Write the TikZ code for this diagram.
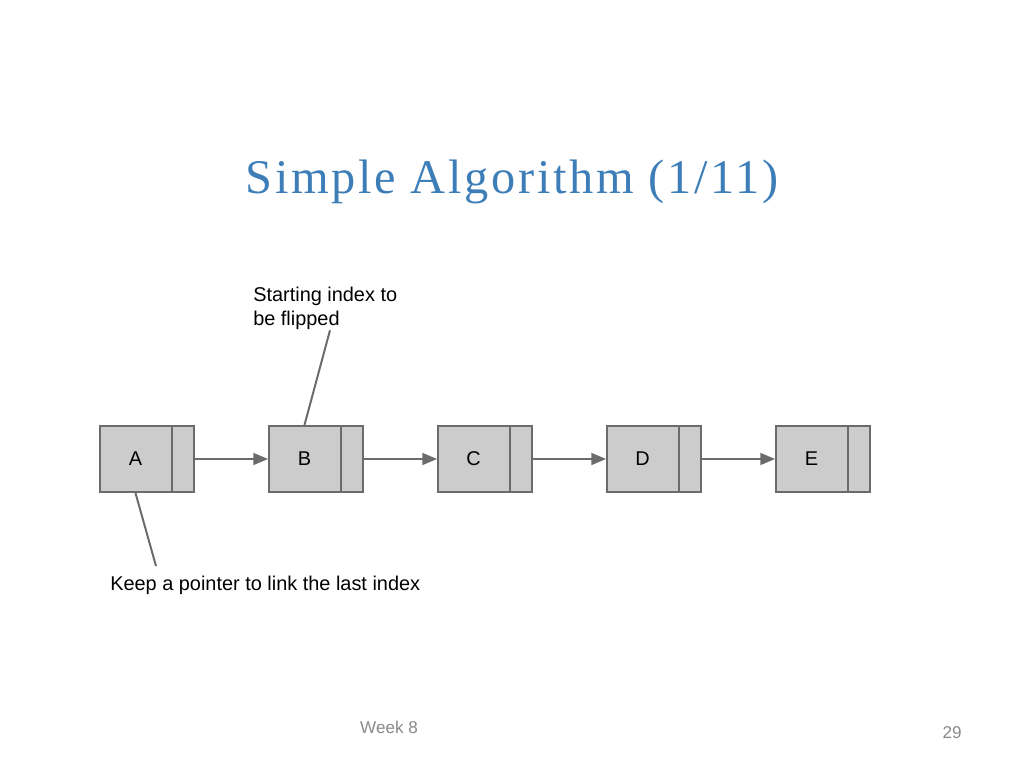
\documentclass[tikz,border=0pt]{standalone}
\usepackage{fontspec}
\setmainfont{Liberation Sans}
\newfontfamily\titlefont[LetterSpace=5.5]{Liberation Serif}
\usetikzlibrary{shapes}
\usetikzlibrary{arrows}
\usetikzlibrary{positioning}
\newlength\pxl
\setlength\pxl{0.703125pt}
\definecolor{titleblue}{HTML}{3E7EB8}
\definecolor{cellfill}{HTML}{CCCCCC}
\definecolor{cellline}{HTML}{6B6B6B}
\definecolor{footgray}{HTML}{898989}
\newcommand{\cell}[1]{\makebox[71\pxl]{#1}\nodepart{two}\makebox[21\pxl]{}}
\begin{document}
\begin{tikzpicture}[x=\pxl,y=-\pxl]
				\tikzstyle{listnode}=[rectangle split, rectangle split horizontal, rectangle split parts=2, draw=cellline, fill=cellfill, line width=1.4pt, inner xsep=0pt, minimum height=66\pxl, font=\fontsize{14}{17}\selectfont]
				\tikzstyle{link}=[->, >=triangle 45, draw=cellline, line width=1.4pt]
				\tikzstyle{pin}=[draw=cellline, line width=1.4pt]
				\tikzstyle{note}=[inner sep=0pt, align=left, font=\fontsize{14}{17}\selectfont]
				\tikzstyle{foot}=[inner sep=0pt, text=footgray, font=\fontsize{12}{14}\selectfont]
				\useasboundingbox (0,0) rectangle (1024,768);
				
				\node[anchor=base, text=titleblue, font=\titlefont\fontsize{34}{40}\selectfont] (title) at (512,194) {Simple Algorithm (1/11)};
				
				% the list
				\node[listnode, anchor=west] (a) at (99,459) {\cell{A}};
				\node[listnode, right=73\pxl of a] (b) {\cell{B}};
				\node[listnode, right=73\pxl of b] (c) {\cell{C}};
				\node[listnode, right=73\pxl of c] (d) {\cell{D}};
				\node[listnode, right=73\pxl of d] (e) {\cell{E}};
				\draw[link] (a) -- (b);
				\draw[link] (b) -- (c);
				\draw[link] (c) -- (d);
				\draw[link] (d) -- (e);
				
				% notes
				\node[note, anchor=north west] (flip) at (253,287) {Starting index to\\be flipped};
				\node[note, anchor=north west] (keep) at (110,576) {Keep a pointer to link the last index};
				\draw[pin] ([xshift=77\pxl]flip.south west) -- (b.one north);
				\draw[pin] (a.one south) -- ([shift={(46,-10)}]keep.north west);
				
				\node[foot] (week) at (389,727) {Week 8};
				\node[foot] (page) at (952,733) {29};
\end{tikzpicture}
\end{document}
